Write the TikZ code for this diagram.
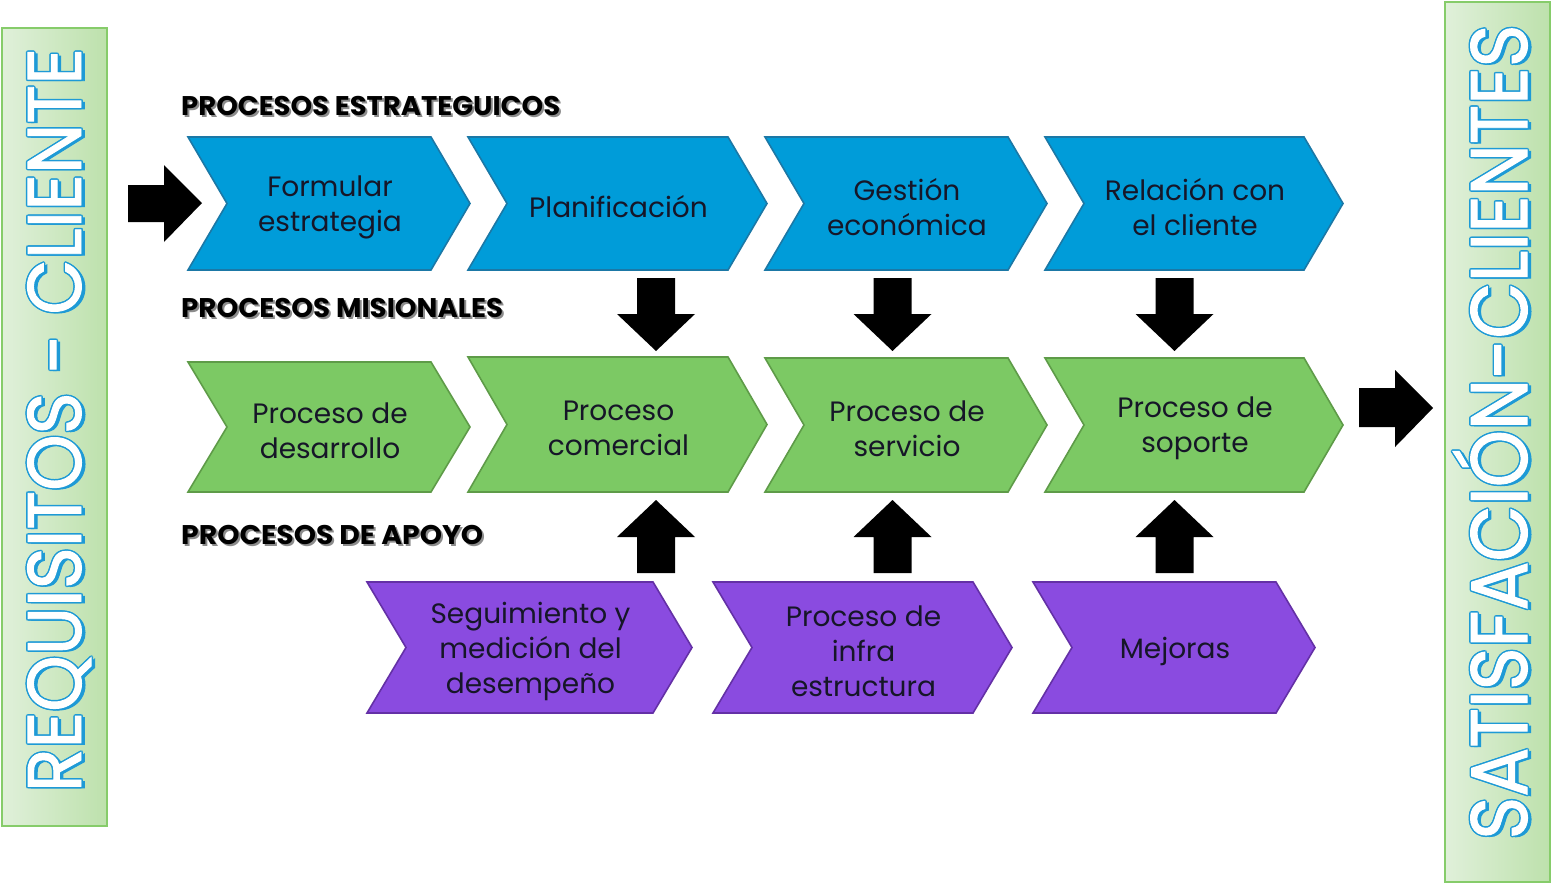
\documentclass[tikz,border=0pt]{standalone}
\usepackage{fontspec}
\usepackage{graphicx}
\setmainfont{Poppins}
\newfontfamily\hdfont{Poppins}
\newfontfamily\vfont{Poppins}[FakeBold=1.3]
\definecolor{cblue}{HTML}{009CD9}
\definecolor{cblueD}{HTML}{1B78A6}
\definecolor{cgreen}{HTML}{7CC964}
\definecolor{cgreenD}{HTML}{5E9B48}
\definecolor{cpurp}{HTML}{8A4BE0}
\definecolor{cpurpD}{HTML}{6430A6}
\definecolor{ctext}{HTML}{161628}
\definecolor{vblue}{HTML}{1E9AD6}
\definecolor{barL}{HTML}{E0F0DA}
\definecolor{barR}{HTML}{BDE1AC}
\definecolor{barB}{HTML}{86CC6A}
\definecolor{hshadow}{HTML}{8C8C8C}
\newcommand\chev[7]{%
  \path[#6] (#2,#3) -- (#4-39,#3) -- (#4,{(#3+#5)/2}) -- (#4-39,#5) -- (#2,#5) -- (#2+39,{(#3+#5)/2}) -- cycle;
  \node[ptxt] (#1) at ({(#2+#4)/2+1},{(#3+#5)/2+3.5}) {#7};}
\newcommand\downarr[1]{\fill[black] (#1-19,278) -- (#1+19,278) -- (#1+19,314) -- (#1+39,314) -- (#1,351) -- (#1-39,314) -- (#1-19,314) -- cycle;}
\newcommand\uparr[1]{\fill[black] (#1-19,573) -- (#1+19,573) -- (#1+19,537) -- (#1+39,537) -- (#1,500) -- (#1-39,537) -- (#1-19,537) -- cycle;}
\newcommand\lefttxt{\raisebox{0pt}[\height][0pt]{\resizebox{744pt}{\height}{\vfont\fontsize{76}{80}\selectfont REQUISITOS - CLIENTE}}}
\newcommand\righttxt{\raisebox{0pt}[\height][0pt]{\resizebox{815pt}{\height}{\vfont\fontsize{80}{84}\selectfont SATISFACIÓN-CLIENTES}}}
\newcommand\hdr[4]{% name, baseline y, width, text
  \node[hdrtxt, text=hshadow] at (183,#2+2) {\resizebox{#3}{\height}{#4}};
  \node[hdrtxt] (#1) at (181,#2) {\resizebox{#3}{\height}{#4}};}
\begin{document}
\begin{tikzpicture}[x=1pt,y=-1pt,
  ptxt/.style={align=center, text=ctext, font=\fontsize{28}{35}\selectfont, inner sep=0pt},
  bluechev/.style={fill=cblue, draw=cblueD, line width=1.6pt, line join=miter},
  greenchev/.style={fill=cgreen, draw=cgreenD, line width=1.6pt, line join=miter},
  purpchev/.style={fill=cpurp, draw=cpurpD, line width=1.6pt, line join=miter},
  hdrtxt/.style={anchor=base west, inner sep=0pt, text=black, font=\hdfont\bfseries\fontsize{27}{30}\selectfont},
  bar/.style={draw=barB, line width=2pt, left color=barL, right color=barR, inner sep=0pt},
  vtxt/.style={rotate=90, anchor=base, inner sep=0pt}]
\useasboundingbox (0,0) rectangle (1552,886);
\fill[white] (0,0) rectangle (1552,886);
% side bars
\node[bar, minimum width=105pt, minimum height=798pt] (lbar) at (54.5,427) {};
\node[bar, minimum width=105pt, minimum height=880pt] (rbar) at (1497.5,442) {};
% vertical texts: shadow, outline, white face
\node[vtxt, text=vblue] at (84.5,421.5) {\lefttxt};
\foreach \dx/\dy in {-1.5/0,1.5/0,0/-1.5,0/1.5,-1.05/-1.05,1.05/1.05,-1.05/1.05,1.05/-1.05}
  {\node[vtxt, text=vblue] at (81+\dx,420+\dy) {\lefttxt};}
\node[vtxt, text=white] (ltext) at (81,420) {\lefttxt};
\node[vtxt, text=vblue] at (1530.5,433.5) {\righttxt};
\foreach \dx/\dy in {-1.5/0,1.5/0,0/-1.5,0/1.5,-1.05/-1.05,1.05/1.05,-1.05/1.05,1.05/-1.05}
  {\node[vtxt, text=vblue] at (1527+\dx,432+\dy) {\righttxt};}
\node[vtxt, text=white] (rtext) at (1527,432) {\righttxt};
% headers
\hdr{hE}{115}{379pt}{PROCESOS ESTRATEGUICOS}
\hdr{hM}{317}{322pt}{PROCESOS MISIONALES}
\hdr{hA}{544}{302pt}{PROCESOS DE APOYO}
% strategic row
\chev{s1}{188}{137}{470}{270}{bluechev}{Formular\\estrategia}
\chev{s2}{468}{137}{767}{270}{bluechev}{Planificación}
\chev{s3}{765}{137}{1047}{270}{bluechev}{Gestión\\económica}
\chev{s4}{1045}{137}{1343}{270}{bluechev}{Relación con\\el cliente}
% mission row
\chev{m1}{188}{362}{470}{492}{greenchev}{Proceso de\\desarrollo}
\chev{m2}{468}{357}{767}{492}{greenchev}{Proceso\\comercial}
\chev{m3}{765}{358}{1047}{492}{greenchev}{Proceso de\\servicio}
\chev{m4}{1045}{358}{1343}{492}{greenchev}{Proceso de\\soporte}
% support row
\chev{a1}{367}{582}{692}{713}{purpchev}{Seguimiento y\\medición del\\desempeño}
\chev{a2}{713}{582}{1012}{713}{purpchev}{Proceso de\\infra\\estructura}
\chev{a3}{1033}{582}{1315}{713}{purpchev}{Mejoras}
% block arrows
\fill[black] (128,185) -- (164,185) -- (164,165) -- (202,203) -- (164,242) -- (164,222) -- (128,222) -- cycle;
\fill[black] (1359,388) -- (1395,388) -- (1395,370) -- (1433,408) -- (1395,447) -- (1395,427) -- (1359,427) -- cycle;
\downarr{656}
\downarr{892.5}
\downarr{1174.5}
\uparr{656}
\uparr{892.5}
\uparr{1174.5}
\end{tikzpicture}
\end{document}
